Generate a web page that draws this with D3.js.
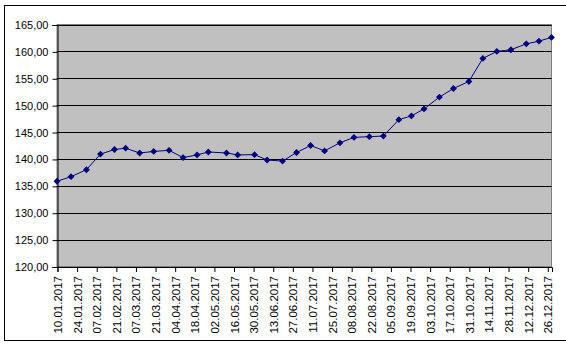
<!DOCTYPE html>
<html>
<head>
<meta charset="utf-8">
<script src="https://cdn.jsdelivr.net/npm/d3@7"></script>
<style>
  body { margin: 0; background: #fff; }
  svg { display: block; font-family: "Liberation Sans", Arial, sans-serif; }
</style>
</head>
<body>
<div id="chart"></div>
<script>
// data points (dd.mm.yyyy) and values
let dates = ['10.01.2017', '20.01.2017', '31.01.2017', '10.02.2017', '20.02.2017', '28.02.2017',
  '10.03.2017', '20.03.2017', '31.03.2017', '10.04.2017', '20.04.2017', '28.04.2017',
  '11.05.2017', '19.05.2017', '31.05.2017', '09.06.2017', '20.06.2017', '30.06.2017',
  '10.07.2017', '20.07.2017', '31.07.2017', '10.08.2017', '21.08.2017', '31.08.2017',
  '11.09.2017', '20.09.2017', '29.09.2017', '10.10.2017', '20.10.2017', '31.10.2017',
  '10.11.2017', '20.11.2017', '30.11.2017', '11.12.2017', '20.12.2017', '29.12.2017']
let values = [135.85, 136.7, 138.0, 140.9, 141.75, 142.0,
  141.1, 141.4, 141.6, 140.25, 140.75, 141.3,
  141.1, 140.75, 140.8, 139.8, 139.6, 141.2,
  142.5, 141.5, 143.0, 144.0, 144.15, 144.25,
  147.3, 148.0, 149.3, 151.5, 153.1, 154.4,
  158.7, 160.0, 160.3, 161.4, 161.9, 162.6]
let tickLabels = ['10.01.2017', '24.01.2017', '07.02.2017', '21.02.2017', '07.03.2017', '21.03.2017',
  '04.04.2017', '18.04.2017', '02.05.2017', '16.05.2017', '30.05.2017', '13.06.2017',
  '27.06.2017', '11.07.2017', '25.07.2017', '08.08.2017', '22.08.2017', '05.09.2017',
  '19.09.2017', '03.10.2017', '17.10.2017', '31.10.2017', '14.11.2017', '28.11.2017',
  '12.12.2017', '26.12.2017']
let yTicks = [120, 125, 130, 135, 140, 145, 150, 155, 160, 165]

var parse = d3.timeParse('%d.%m.%Y')
var data = dates.map(function (d, i) {
  return {date: parse(d), value: values[i]}
})

var width = 566
var height = 344
var plot = {left: 57, right: 551.5, top: 24.5, bottom: 266.5}

var svg = d3.select('#chart')
  .append('svg')
  .attr('width', width)
  .attr('height', height)

// outer chart frame
svg.append('rect')
  .attr('x', 4.5).attr('y', 5.5)
  .attr('width', 580).attr('height', 335)
  .attr('fill', '#fff')
  .attr('stroke', '#000')

var x = d3.scaleTime()
  .domain([data[0].date, data[data.length - 1].date])
  .range([plot.left, plot.right])

var y = d3.scaleLinear()
  .domain([120, 165])
  .range([plot.bottom, plot.top])

// plot area
svg.append('rect')
  .attr('x', plot.left).attr('y', plot.top)
  .attr('width', plot.right - plot.left)
  .attr('height', plot.bottom - plot.top)
  .attr('fill', '#c0c0c0')
  .attr('stroke', '#808080')

// gridlines
svg.selectAll('line.grid')
  .data(yTicks)
  .enter().append('line')
  .attr('class', 'grid')
  .attr('x1', plot.left).attr('x2', plot.right)
  .attr('y1', function (d) { return Math.round(y(d)) + 0.5 })
  .attr('y2', function (d) { return Math.round(y(d)) + 0.5 })
  .attr('stroke', '#000')

var fmt = function (d) { return d3.format('.2f')(d).replace('.', ',') }

// y axis
var yAxis = svg.append('g')
  .attr('transform', 'translate(' + (plot.left + 0.5) + ',0.5)')
  .call(d3.axisLeft(y).tickValues(yTicks).tickFormat(fmt).tickSize(5).tickPadding(4))
yAxis.select('.domain').attr('stroke', '#000')
yAxis.selectAll('text').attr('font-size', '11px').attr('fill', '#000')
  .attr('font-family', '"Liberation Sans", Arial, sans-serif')

// x axis
var xAxis = svg.append('g')
  .attr('transform', 'translate(0.5,' + (plot.bottom + 0.5) + ')')
  .call(d3.axisBottom(x).tickValues(tickLabels.map(parse)).tickFormat(d3.timeFormat('%d.%m.%Y')).tickSize(5))
xAxis.select('.domain').attr('stroke', '#000')
xAxis.selectAll('text')
  .attr('font-size', '11.5px')
  .attr('fill', '#000')
  .attr('font-family', '"Liberation Sans", Arial, sans-serif')
  .attr('text-anchor', 'end')
  .attr('transform', 'rotate(-90)')
  .attr('x', -9)
  .attr('y', 0)
  .attr('dy', '0.35em')

// line
var line = d3.line()
  .x(function (d) { return x(d.date) })
  .y(function (d) { return y(d.value) })

svg.append('path')
  .datum(data)
  .attr('d', line)
  .attr('fill', 'none')
  .attr('stroke', '#000080')
  .attr('stroke-width', 1)

// diamond markers
svg.selectAll('path.marker')
  .data(data)
  .enter().append('path')
  .attr('class', 'marker')
  .attr('d', d3.symbol().type(d3.symbolDiamond2).size(30))
  .attr('transform', function (d) {
    return 'translate(' + x(d.date) + ',' + y(d.value) + ')'
  })
  .attr('fill', '#000080')
</script>
</body>
</html>
